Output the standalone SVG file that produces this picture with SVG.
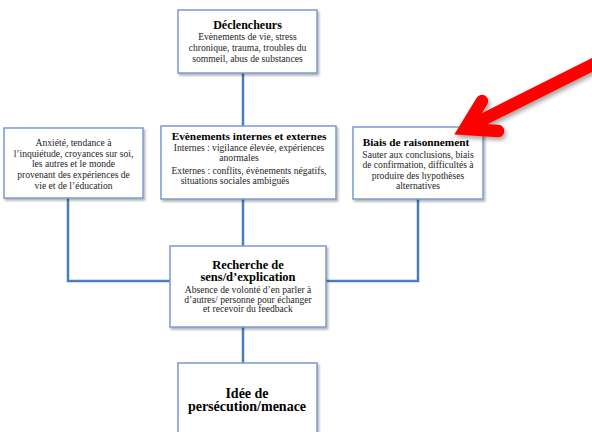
<svg xmlns="http://www.w3.org/2000/svg" width="592" height="432" viewBox="0 0 592 432">
  <defs>
    <filter id="boxShadow" x="-10%" y="-10%" width="125%" height="130%">
      <feDropShadow dx="1.5" dy="2" stdDeviation="1.2" flood-color="#000" flood-opacity="0.3"/>
    </filter>
    <filter id="arrowShadow" x="-20%" y="-20%" width="140%" height="150%">
      <feDropShadow dx="2" dy="3" stdDeviation="2" flood-color="#000" flood-opacity="0.35"/>
    </filter>
  </defs>
  <style>
    .box { fill: #ffffff; stroke: #7b9bcc; stroke-width: 1.5; filter: url(#boxShadow); }
    .link { fill: none; stroke: #4a7ebb; stroke-width: 2.5; }
    text { font-family: "Liberation Serif", "Times New Roman", serif; text-anchor: middle; }
    .title { font-weight: bold; fill: #000; }
    .body { font-size: 9.6px; fill: #262626; }
  </style>

  <rect width="592" height="432" fill="#ffffff"/>

  <!-- connectors -->
  <g id="connectors">
    <line class="link" x1="243" y1="73" x2="243" y2="126"/>
    <line class="link" x1="243" y1="199" x2="243" y2="246"/>
    <polyline class="link" points="68,198 68,281 170,281"/>
    <polyline class="link" points="418,199 418,281 326,281"/>
    <line class="link" x1="243" y1="327" x2="243" y2="363"/>
  </g>

  <!-- triggers -->
  <g id="declencheurs">
    <rect class="box" x="178" y="10" width="139" height="63"/>
    <text class="title" x="247.5" y="29" font-size="12">Déclencheurs</text>
    <text class="body" x="247.5" y="40">Evènements de vie, stress</text>
    <text class="body" x="247.5" y="51">chronique, trauma, troubles du</text>
    <text class="body" x="247.5" y="62">sommeil, abus de substances</text>
  </g>

  <!-- background factors -->
  <g id="anxiete">
    <rect class="box" x="4" y="128" width="139" height="70"/>
    <text class="body" x="73.5" y="146">Anxiété, tendance à</text>
    <text class="body" x="73.5" y="156.5">l’inquiétude, croyances sur soi,</text>
    <text class="body" x="73.5" y="167">les autres et le monde</text>
    <text class="body" x="73.5" y="177.5">provenant des expériences de</text>
    <text class="body" x="73.5" y="189">vie et de l’éducation</text>
  </g>

  <!-- internal and external events -->
  <g id="evenements">
    <rect class="box" x="161" y="126" width="175" height="73"/>
    <text class="title" x="249" y="140" font-size="11.3">Evènements internes et externes</text>
    <text class="body" x="249" y="151">Internes : vigilance élevée, expériences</text>
    <text class="body" x="239" y="161">anormales</text>
    <text class="body" x="249" y="173.5">Externes : conflits, évènements négatifs,</text>
    <text class="body" x="235" y="184">situations sociales ambiguës</text>
  </g>

  <!-- reasoning biases -->
  <g id="biais">
    <rect class="box" x="353" y="127" width="130" height="72"/>
    <text class="title" x="416" y="146" font-size="11.3">Biais de raisonnement</text>
    <text class="body" x="418" y="157.5">Sauter aux conclusions, biais</text>
    <text class="body" x="418" y="168">de confirmation, difficultés à</text>
    <text class="body" x="418" y="178.5">produire des hypothèses</text>
    <text class="body" x="418" y="189">alternatives</text>
  </g>

  <!-- search for meaning -->
  <g id="recherche">
    <rect class="box" x="170" y="246" width="156" height="81"/>
    <text class="title" x="248" y="268.5" font-size="12.5">Recherche de</text>
    <text class="title" x="248" y="281" font-size="12.5">sens/d’explication</text>
    <text class="body" x="248" y="293">Absence de volonté d’en parler à</text>
    <text class="body" x="248" y="302.5">d’autres/ personne pour échanger</text>
    <text class="body" x="248" y="312">et recevoir du feedback</text>
  </g>

  <!-- persecutory idea -->
  <g id="idee">
    <rect class="box" x="178" y="363" width="139" height="80"/>
    <text class="title" x="247" y="397.5" font-size="14">Idée de</text>
    <text class="title" x="247" y="411" font-size="14">persécution/menace</text>
  </g>

  <!-- red pointer -->
  <g id="pointer" filter="url(#arrowShadow)" fill="none" stroke="#ff0000" stroke-width="12.5" stroke-linecap="round">
    <line x1="600" y1="61" x2="468" y2="127"/>
    <path d="M482,101 L465,129 L498,131" stroke-linejoin="miter" stroke-miterlimit="6"/>
  </g>
</svg>
